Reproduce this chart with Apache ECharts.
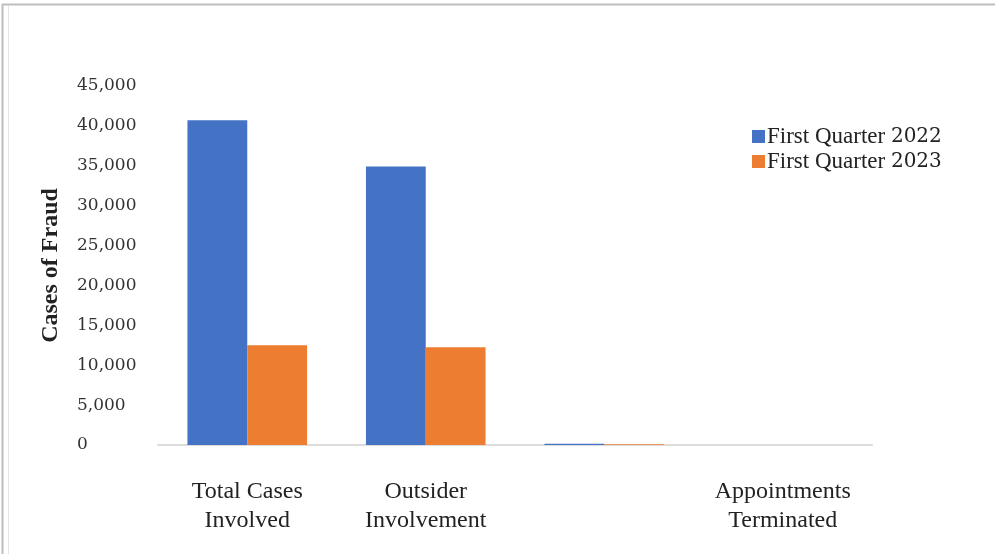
<!DOCTYPE html>
<html>
<head>
<meta charset="utf-8">
<script src="https://cdn.jsdelivr.net/npm/echarts@6/dist/echarts.min.js"></script>
<style>
  html, body { margin: 0; padding: 0; background: #fff; }
  #chart { width: 995px; height: 554px; }
</style>
</head>
<body>
<div id="chart"></div>
<script>
// Fraud case categories (third category carries no printed label)
const categories = ['Total Cases\nInvolved', 'Outsider\nInvolvement', '', 'Appointments\nTerminated'];
const seriesNames = ['First Quarter 2022', 'First Quarter 2023'];
const q1_2022 = [40700, 34900, 150, 0];
const q1_2023 = [12500, 12250, 100, 0];
const yTicks = { min: 0, max: 45000, interval: 5000 };

const chart = echarts.init(document.getElementById('chart'), null, { renderer: 'canvas' });

const serif = '"Liberation Serif", "DejaVu Serif", serif';
const numSerif = '"DejaVu Serif", serif';

chart.setOption({
  backgroundColor: '#ffffff',
  animation: false,
  color: ['#4472C4', '#ED7D31'],
  graphic: [
    { type: 'line', shape: { x1: 2, y1: 4.5, x2: 995, y2: 4.5 }, style: { stroke: '#bdbdbd', lineWidth: 2 } },
    { type: 'line', shape: { x1: 2.5, y1: 4, x2: 2.5, y2: 554 }, style: { stroke: '#bdbdbd', lineWidth: 2 } },
    { type: 'line', shape: { x1: 8.5, y1: 6, x2: 8.5, y2: 554 }, style: { stroke: '#e6e6e6', lineWidth: 1 } }
  ],
  legend: {
    orient: 'vertical',
    left: 747,
    top: 120,
    itemWidth: 13,
    itemHeight: 13,
    itemGap: 2,
    icon: 'rect',
    formatter: name => name.replace(/(\d+)/, '{d|$1}'),
    textStyle: {
      fontFamily: serif, fontSize: 23, lineHeight: 23, color: '#222', padding: [0, 0, 0, -3],
      rich: { d: { fontFamily: numSerif, fontSize: 20, lineHeight: 23, color: '#222' } }
    },
    data: seriesNames
  },
  grid: { left: 158, right: 123, top: 86, bottom: 109 },
  xAxis: {
    type: 'category',
    data: categories,
    axisLine: { lineStyle: { color: '#dcdcdc', width: 2 } },
    axisTick: { show: false },
    axisLabel: {
      fontFamily: serif,
      fontSize: 24,
      color: '#222',
      lineHeight: 29,
      margin: 32
    }
  },
  yAxis: {
    type: 'value',
    min: yTicks.min,
    max: yTicks.max,
    interval: yTicks.interval,
    name: 'Cases of Fraud',
    nameLocation: 'middle',
    nameGap: 95,
    nameRotate: 90,
    nameTextStyle: { fontFamily: serif, fontSize: 24, fontWeight: 'bold', color: '#222' },
    axisLine: { show: false },
    axisTick: { show: false },
    splitLine: { show: false },
    axisLabel: {
      align: 'left',
      margin: 81,
      fontFamily: numSerif,
      fontSize: 17,
      color: '#333',
      formatter: v => v.toLocaleString('en-US')
    }
  },
  series: [
    { name: seriesNames[0], type: 'bar', data: q1_2022, barGap: '0%', barCategoryGap: '33%' },
    { name: seriesNames[1], type: 'bar', data: q1_2023, barGap: '0%', barCategoryGap: '33%' }
  ]
});
</script>
</body>
</html>
